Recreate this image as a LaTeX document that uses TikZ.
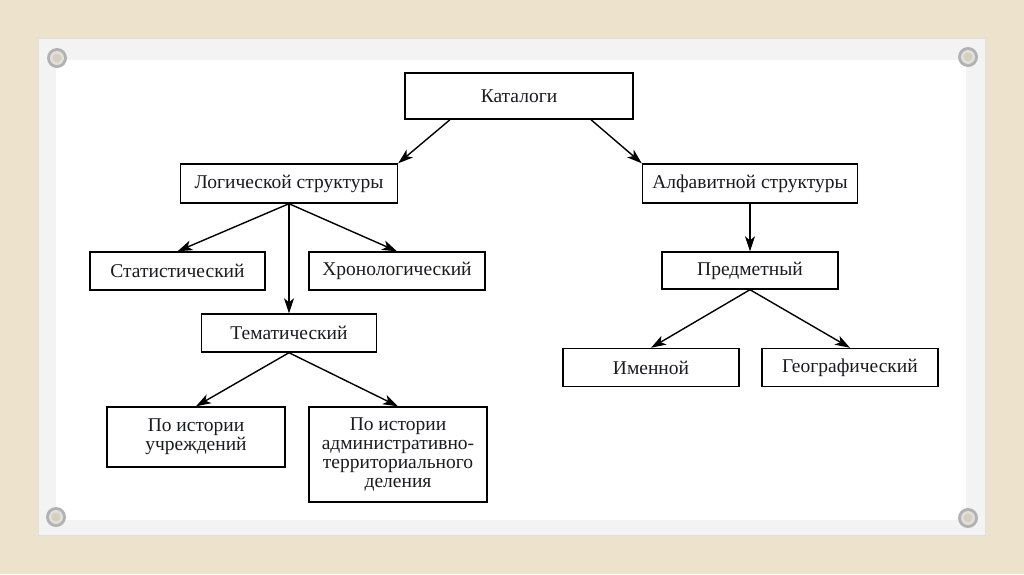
\documentclass[tikz,border=0pt]{standalone}
\usepackage{fontspec}
\setmainfont{Liberation Serif}
\usetikzlibrary{arrows.meta, positioning}
\definecolor{canvas}{HTML}{EDE3CD}
\definecolor{cardrim}{HTML}{F3F3F3}
\definecolor{ink}{HTML}{1A1A22}

\begin{document}
\begin{tikzpicture}[x=1pt, y=-1pt, box/.style={draw, line width=1.4pt, fill=white, text=ink, minimum width=176pt, minimum height=38pt, inner sep=0pt, align=center, font=\fontsize{19.5}{18.8}\selectfont}, arr/.style={-{Stealth[length=15pt, width=10pt, inset=4pt]}, line width=1.4pt}]
  \useasboundingbox (0,0) rectangle (1024,574);
  \fill[canvas] (0,0) rectangle (1024,574);
  \fill[cardrim, draw=gray!25] (38,38) rectangle (985,535);
  \fill[white] (56,60) rectangle (966,520);
  \foreach \p in {(57,58), (968,57), (56,517), (968,518)} {
    \fill[gray!60] \p circle (10pt);
    \fill[gray!25] \p circle (7pt);
    \fill[canvas!80!gray] \p circle (4.5pt);
  }

  \node[box, minimum width=228pt, minimum height=46pt] (cat) at (519,96) {Каталоги};

  \node[box, minimum width=217pt, minimum height=39pt] (log) at (289,183.5) {Логической структуры};
  \node[box, minimum width=215pt, minimum height=39pt] (alf) at (750,183.5) {Алфавитной структуры};

  \node[box, minimum width=175pt] (stat) at (177.5,271) {Статистический};
  \node[box] (chron) at (397,271) {Хронологический};
  \node[box, minimum width=175pt] (tem) at (289,333) {Тематический};

  \node[box, minimum width=178pt, minimum height=60pt] (inst) at (196,437) {По истории\\учреждений};
  \node[box, minimum width=178pt, minimum height=95pt] (adm) at (398,454.5) {По истории\\административно-\\территориального\\деления};

  \node[box, minimum height=37pt] (subj) at (750,270.5) {Предметный};
  \node[box] (name) at (651,367.5) {Именной};
  \node[box] (geo) at (850,367.5) {Географический};

  \draw[arr] ([xshift=-69pt]cat.south) -- (log.north east);
  \draw[arr] ([xshift=72pt]cat.south) -- (alf.north west);
  \draw[arr] (log.south) -- (stat.north);
  \draw[arr] (log.south) -- (chron.north);
  \draw[arr] (log.south) -- (tem.north);
  \draw[arr] (tem.south) -- (inst.north);
  \draw[arr] (tem.south) -- (adm.north);
  \draw[arr] (alf.south) -- (subj.north);
  \draw[arr] (subj.south) -- (name.north);
  \draw[arr] (subj.south) -- (geo.north);
\end{tikzpicture}
\end{document}
